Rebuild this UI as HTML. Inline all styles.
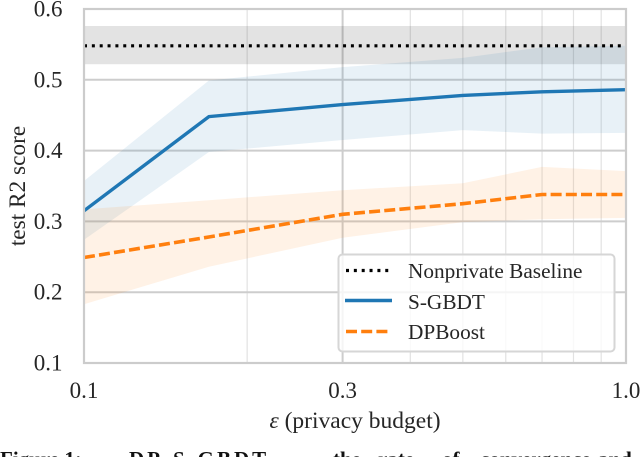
<!DOCTYPE html>
<html><head><meta charset="utf-8"><style>
html,body{margin:0;padding:0;background:#fff;width:640px;height:457px;overflow:hidden}
svg{display:block;font-family:"Liberation Serif",serif;fill:#262626}
</style></head><body>
<svg id="chart" width="640" height="457" viewBox="0 0 640 457" xmlns="http://www.w3.org/2000/svg"></svg>
<script>
const epsilonValues = [0.1, 0.17, 0.3, 0.5, 0.7, 1.0];
const sgbdtMean = [0.315, 0.448, 0.465, 0.478, 0.483, 0.486];
const sgbdtUpper = [0.357, 0.499, 0.518, 0.531, 0.546, 0.548];
const sgbdtLower = [0.274, 0.398, 0.415, 0.429, 0.424, 0.425];
const dpboostMean = [0.249, 0.278, 0.310, 0.325, 0.338, 0.338];
const dpboostUpper = [0.317, 0.330, 0.344, 0.354, 0.377, 0.371];
const dpboostLower = [0.183, 0.236, 0.277, 0.299, 0.303, 0.305];
const baselineMean = [0.548];
const baselineUpper = [0.576];
const baselineLower = [0.522];
const yTicks = [0.1, 0.2, 0.3, 0.4, 0.5, 0.6];
const xMajorTicks = [0.1, 0.3, 1.0];
const xMinorTicks = [0.2, 0.4, 0.5, 0.6, 0.7, 0.8, 0.9];

const svg = document.getElementById('chart');
const NS = 'http://www.w3.org/2000/svg';
const xScale = v => 84 + 542 * Math.log10(v / 0.1);
const yScale = v => 363 - (v - 0.1) * 708;
function mk(tag, attrs, parent) {
  const el = document.createElementNS(NS, tag);
  for (const k in attrs) el.setAttribute(k, attrs[k]);
  (parent || svg).appendChild(el);
  return el;
}
function linePts(ys) {
  return ys.map((v, i) => xScale(epsilonValues[i]).toFixed(1) + ',' + yScale(v).toFixed(1)).join(' ');
}
function bandPts(up, lo) {
  return linePts(up) + ' ' + lo.map((v, i) => [i, v]).reverse()
    .map(p => xScale(epsilonValues[p[0]]).toFixed(1) + ',' + yScale(p[1]).toFixed(1)).join(' ');
}

xMinorTicks.forEach(t => {
  const l = mk('line', {x1: xScale(t), x2: xScale(t), y1: yScale(0.6), y2: yScale(0.1), stroke: '#e2e2e2', 'stroke-width': 1.2});
  
  
});
yTicks.slice(1, 5).forEach(t => {
  const l = mk('line', {x1: xScale(0.1), x2: xScale(1), y1: yScale(t), y2: yScale(t), stroke: '#cdcdcd', 'stroke-width': 2});
  
  
});
const xMajorLine = mk('line', {x1: xScale(0.3), x2: xScale(0.3), y1: yScale(0.6), y2: yScale(0.1), stroke: '#cdcdcd', 'stroke-width': 2});



const baselineBand = mk('rect', {x: xScale(0.1), width: xScale(1) - xScale(0.1), y: yScale(baselineUpper[0]), height: yScale(baselineLower[0]) - yScale(baselineUpper[0]), fill: '#000', 'fill-opacity': 0.11});


const sgbdtBand = mk('polygon', {points: bandPts(sgbdtUpper, sgbdtLower), fill: '#1f77b4', 'fill-opacity': 0.1});


const dpboostBand = mk('polygon', {points: bandPts(dpboostUpper, dpboostLower), fill: '#ff7f0e', 'fill-opacity': 0.1});



const baselineLine = mk('line', {x1: xScale(0.1), x2: xScale(1), y1: yScale(baselineMean[0]), y2: yScale(baselineMean[0]), stroke: '#000', 'stroke-width': 3.2, 'stroke-dasharray': '3 4.85'});


const sgbdtLine = mk('polyline', {points: linePts(sgbdtMean), fill: 'none', stroke: '#1f77b4', 'stroke-width': 3.4});


const dpboostLine = mk('polyline', {points: linePts(dpboostMean), fill: 'none', stroke: '#ff7f0e', 'stroke-width': 3.6, 'stroke-dasharray': '11 4.2'});



const frame = mk('rect', {x: xScale(0.1), y: yScale(0.6), width: xScale(1) - xScale(0.1), height: yScale(0.1) - yScale(0.6), fill: 'none', stroke: '#cccccc', 'stroke-width': 2.2});



yTicks.forEach(t => {
  const el = mk('text', {x: 62.5, y: yScale(t) + 7.5, 'text-anchor': 'end', 'font-size': 23});
  el.textContent = t.toFixed(1);
  
  
});
xMajorTicks.forEach(t => {
  const el = mk('text', {x: xScale(t), y: 398, 'text-anchor': 'middle', 'font-size': 23});
  el.textContent = t.toFixed(1);
  
  
});
</script>
<script>
(function(){
  const s = document.getElementById('chart');
  s.insertAdjacentHTML('beforeend', `
  <text transform="translate(25,186) rotate(-90)" text-anchor="middle" font-size="23.3">test R2 score</text>
  <text x="355" y="428" text-anchor="middle" font-size="23.5"><tspan font-style="italic">ε</tspan> (privacy budget)</text>
  <g>
    <rect x="338.5" y="254.5" width="276" height="97" rx="4" fill="#fff" fill-opacity="0.8" stroke="#d6d6d6" stroke-width="2"/>
    <line x1="346" x2="390" y1="270.5" y2="270.5" stroke="#000" stroke-width="3.2" stroke-dasharray="3 4.85"/>
    <text x="408" y="278" font-size="21.3">Nonprivate Baseline</text>
    <line x1="345" x2="392" y1="300.5" y2="300.5" stroke="#1f77b4" stroke-width="3.4"/>
    <text x="408" y="309" font-size="21.3">S-GBDT</text>
    <line x1="346" x2="390" y1="331.5" y2="331.5" stroke="#ff7f0e" stroke-width="3.6" stroke-dasharray="11 4.2"/>
    <text x="408" y="339" font-size="21.3">DPBoost</text>
  </g>
  <text y="466" font-size="21" font-weight="bold" fill="#111"><tspan x="0">Figure 1:</tspan><tspan x="129" letter-spacing="3">DP-S-GBDT</tspan><tspan x="333">the</tspan><tspan x="378">rate</tspan><tspan x="442">of</tspan><tspan x="480">convergence</tspan><tspan x="598">and</tspan></text>`);
})();
</script>
</body></html>
